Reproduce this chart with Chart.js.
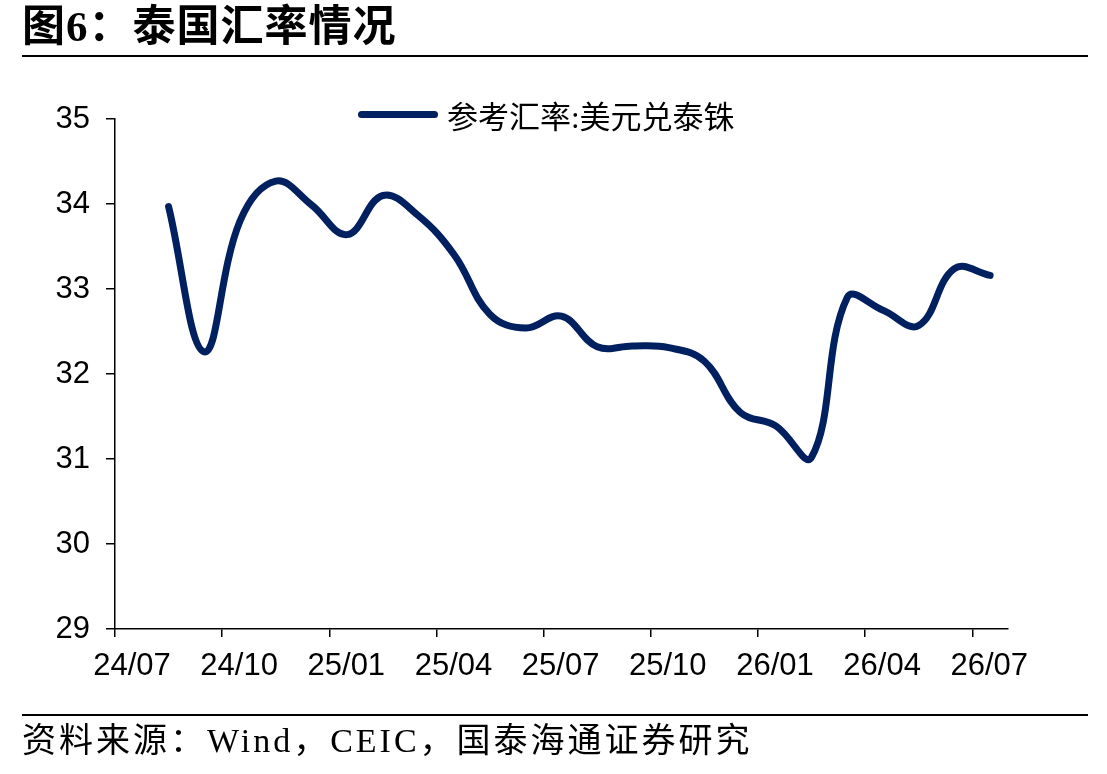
<!DOCTYPE html>
<html>
<head>
<meta charset="utf-8">
<script src="https://cdn.jsdelivr.net/npm/chart.js@4/dist/chart.umd.min.js"></script>
<style>
  html, body { margin: 0; padding: 0; background: #fff; }
  #wrap { position: relative; width: 1107px; height: 774px; overflow: hidden; }
  #mainChart { position: absolute; left: 0; top: 0; }
  .title {
    position: absolute; left: 22px; top: 3px;
    font: bold 43px "Liberation Serif", "Noto Sans CJK SC", serif; letter-spacing: 1px;
    color: #000; line-height: 48px; white-space: nowrap;
  }
  .rule { position: absolute; left: 22px; width: 1066px; height: 2px; background: #000; }
  .legend {
    position: absolute; left: 358px; top: 94px; height: 40px;
    display: flex; align-items: center; white-space: nowrap;
  }
  .legend .swatch { width: 80px; height: 7px; border-radius: 4px; background: #002060; margin-right: 9px; }
  .legend .txt { font: 31px "Liberation Serif", "Noto Sans CJK SC", serif; color: #000; }
  .source {
    position: absolute; left: 22px; top: 719px;
    font: 34px "Liberation Serif", "Noto Sans CJK SC", serif; letter-spacing: 3px;
    color: #000; line-height: 44px; white-space: nowrap;
  }
</style>
</head>
<body>
<div id="wrap">
  <canvas id="mainChart" width="1107" height="774"></canvas>
  <div class="title">图6：泰国汇率情况</div>
  <div class="rule" style="top:55px"></div>
  <div class="legend"><span class="swatch"></span><span class="txt" id="legendText"></span></div>
  <div class="rule" style="top:714px"></div>
  <div class="source">资料来源：Wind，CEIC，国泰海通证券研究</div>
</div>
<script>
document.addEventListener('DOMContentLoaded', function () {

    // monthly data, plotted at the middle of each month
    const months = ['2024-08', '2024-09', '2024-10', '2024-11', '2024-12',
                    '2025-01', '2025-02', '2025-03', '2025-04', '2025-05', '2025-06',
                    '2025-07', '2025-08', '2025-09', '2025-10', '2025-11', '2025-12',
                    '2026-01', '2026-02', '2026-03', '2026-04', '2026-05', '2026-06', '2026-07'];
    const usdThb = [33.97, 32.26, 33.80, 34.27, 33.99,
                    33.64, 34.10, 33.86, 33.40, 32.70, 32.54,
                    32.68, 32.32, 32.33, 32.31, 32.15, 31.55,
                    31.39, 31.02, 32.90, 32.75, 32.57, 33.24, 33.16];
    const seriesName = '参考汇率:美元兑泰铢';

    const tickLabels = ['24/07', '24/10', '25/01', '25/04', '25/07', '25/10', '26/01', '26/04', '26/07'];
    const yTicks = [29, 30, 31, 32, 33, 34, 35];

    // months counted from 2024/07
    function monthPos(s) {
        const parts = s.split('-');
        return (parseInt(parts[0]) - 2024) * 12 + (parseInt(parts[1]) - 7) + 0.5;
    }

    const points = months.map((m, i) => ({ x: monthPos(m), y: usdThb[i] }));
    document.getElementById('legendText').textContent = seriesName;

    const ctx = document.getElementById('mainChart').getContext('2d');
    const axisFont = { family: '"Liberation Sans", Arial, sans-serif', size: 31 };

    new Chart(ctx, {
        type: 'line',
        data: {
            datasets: [{
                label: seriesName,
                data: points,
                borderColor: '#002060',
                borderWidth: 7,
                borderCapStyle: 'round',
                borderJoinStyle: 'round',
                pointRadius: 0,
                tension: 0.4,
                fill: false
            }]
        },
        options: {
            responsive: false,
            animation: false,
            layout: { padding: { left: 0, top: 119, right: 99, bottom: 85 } },
            plugins: {
                legend: { display: false },
                tooltip: { enabled: false }
            },
            scales: {
                x: {
                    type: 'linear',
                    min: 0,
                    max: 25,
                    afterBuildTicks: (scale) => {
                        scale.ticks = tickLabels.map((t, i) => ({ value: i * 3 }));
                    },
                    afterFit: (scale) => { scale.height = 60; },
                    ticks: {
                        autoSkip: false,
                        maxRotation: 0,
                        padding: 11,
                        labelOffset: 17,
                        color: '#000',
                        font: axisFont,
                        callback: (v) => tickLabels[Math.round(v / 3)]
                    },
                    grid: { drawOnChartArea: false, tickLength: 8, color: '#000', lineWidth: 1.5 },
                    border: { color: '#000', width: 1.5 }
                },
                y: {
                    min: 29,
                    max: 35,
                    afterBuildTicks: (scale) => {
                        scale.ticks = yTicks.map(v => ({ value: v }));
                    },
                    afterFit: (scale) => { scale.width = 115; },
                    ticks: { padding: 16, color: '#000', font: axisFont },
                    grid: { drawOnChartArea: false, tickLength: 9, color: '#000', lineWidth: 1.5 },
                    border: { color: '#000', width: 1.5 }
                }
            }
        }
    });
});
</script>
</body>
</html>
